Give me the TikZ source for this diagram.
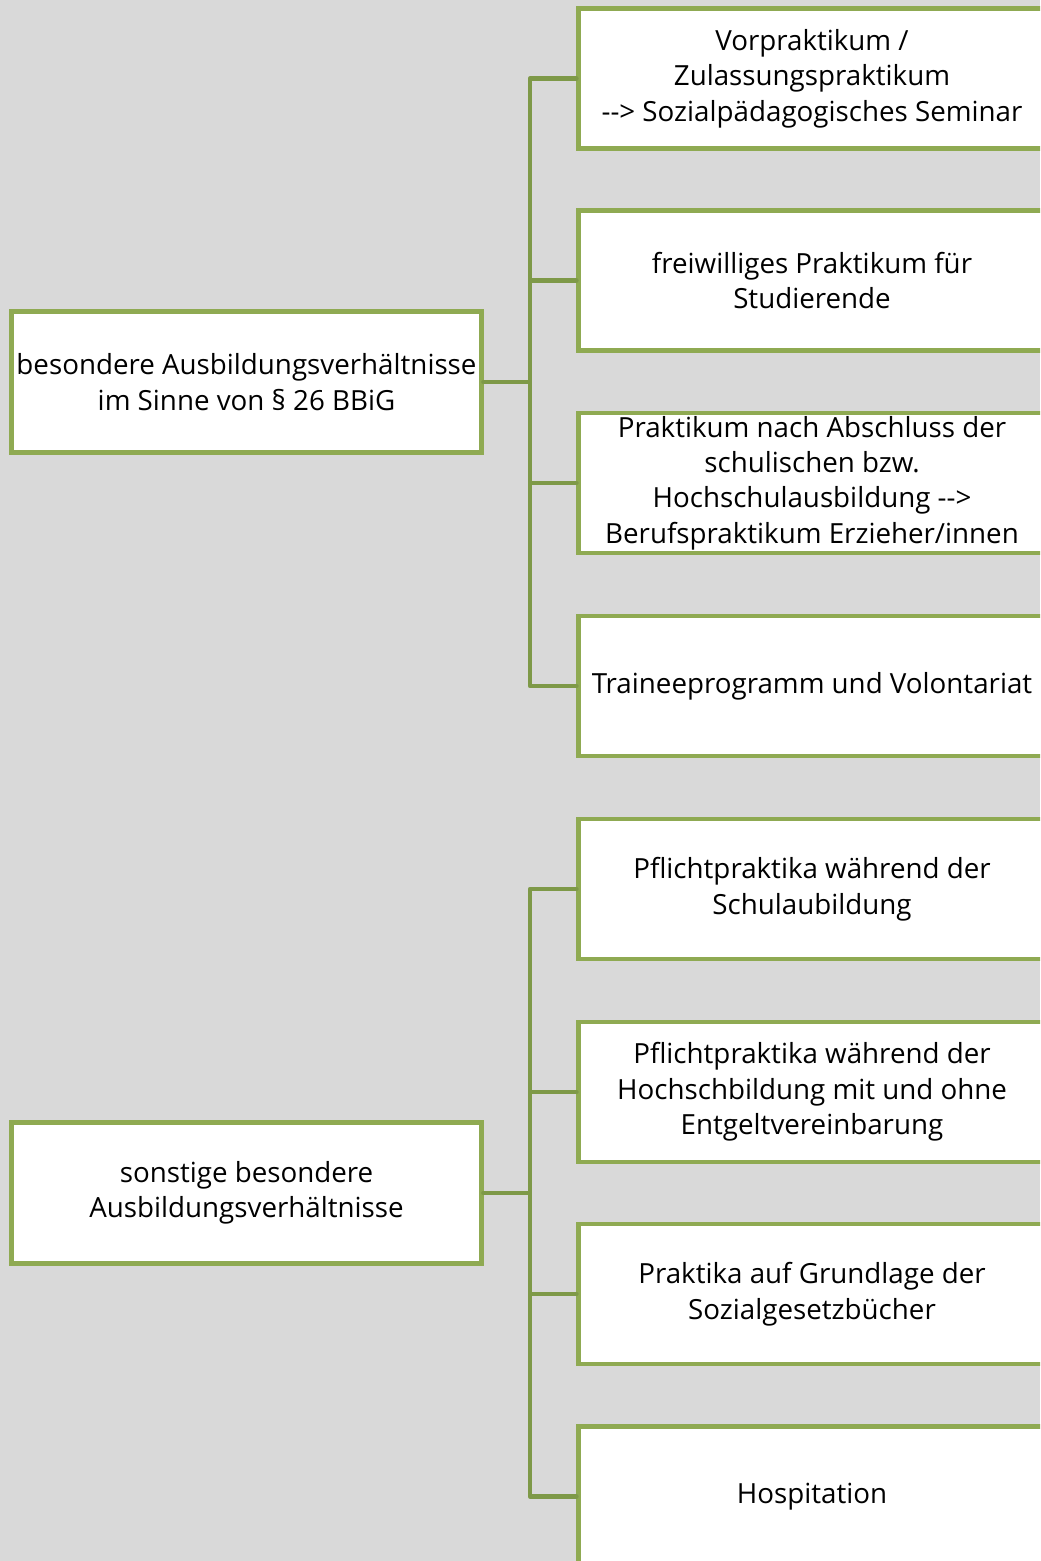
\documentclass[tikz,border=0pt]{standalone}
\usepackage{fontspec}
\setmainfont{Open Sans}
\definecolor{boxgreen}{RGB}{143,170,82}
\definecolor{linegreen}{RGB}{126,153,72}
\definecolor{bggray}{RGB}{217,217,217}

\begin{document}
\begin{tikzpicture}[x=0.75pt,y=-0.75pt,
  font=\fontsize{20.8}{26.6}\selectfont,
  lbox/.style={rectangle,draw=boxgreen,fill=white,line width=3.6pt,minimum width=352pt,minimum height=106pt,align=center,inner sep=0pt},
  rbox/.style={rectangle,draw=boxgreen,fill=white,line width=3.6pt,minimum width=350pt,minimum height=105pt,align=center,inner sep=0pt},
  conn/.style={draw=linegreen,line width=3.6pt,line join=round,line cap=round}]
\path[use as bounding box,fill=bggray] (0,0) rectangle (1040,1561);
\clip (0,0) rectangle (1040,1561);

% first group
\path (246.5,382) node[lbox] (B26) {besondere Ausbildungsverhältnisse\\im Sinne von § 26 BBiG};
\path (812,78.5) node[rbox] (V) {Vorpraktikum /\\Zulassungspraktikum\\{-}{-}> Sozialpädagogisches Seminar};
\path (812,280.5) node[rbox] (FP) {freiwilliges Praktikum für\\Studierende};
\path (812,483) node[rbox] (PA) {Praktikum nach Abschluss der\\schulischen bzw.\\Hochschulausbildung {-}{-}>\\Berufspraktikum Erzieher/innen};
\path (812,686) node[rbox] (TV) {Traineeprogramm und Volontariat};
\coordinate (j1) at (530,382);
\draw[conn] (B26.east) -- (j1) |- (V.west);
\draw[conn] (j1) |- (FP.west);
\draw[conn] (j1) |- (PA.west);
\draw[conn] (j1) |- (TV.west);

% second group
\path (246.5,1193) node[lbox] (S) {sonstige besondere\\Ausbildungsverhältnisse};
\path (812,889) node[rbox] (PS) {Pflichtpraktika während der\\Schulaubildung};
\path (812,1092) node[rbox] (PH) {Pflichtpraktika während der\\Hochschbildung mit und ohne\\Entgeltvereinbarung};
\path (812,1294) node[rbox] (PG) {Praktika auf Grundlage der\\Sozialgesetzbücher};
\path (812,1496.5) node[rbox] (H) {Hospitation};
\coordinate (j2) at (530,1193);
\draw[conn] (S.east) -- (j2) |- (PS.west);
\draw[conn] (j2) |- (PH.west);
\draw[conn] (j2) |- (PG.west);
\draw[conn] (j2) |- (H.west);
\end{tikzpicture}
\end{document}
